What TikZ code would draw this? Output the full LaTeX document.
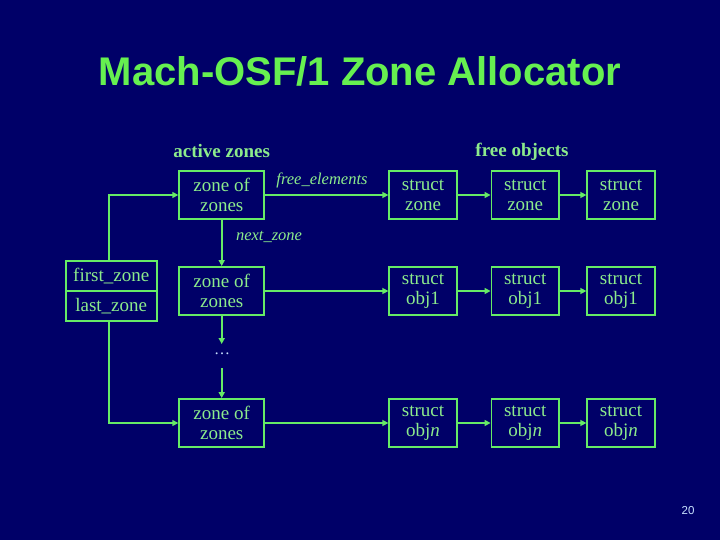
\documentclass[tikz,border=0pt]{standalone}
\usepackage{fontspec}
\setmainfont{Liberation Serif}
\newfontfamily\titlefont{Liberation Sans}
\usetikzlibrary{arrows.meta}
\definecolor{bg}{RGB}{0,0,104}
\definecolor{ln}{RGB}{102,235,102}
\definecolor{tx}{RGB}{140,235,140}
\definecolor{ttl}{RGB}{102,240,80}
\definecolor{pg}{RGB}{200,225,255}
\tikzset{
  box/.style={draw=ln, line width=1.8pt, text=tx, align=center, inner sep=0pt,
    font=\fontsize{19}{20}\selectfont},
  zbox/.style={box, minimum width=85pt, minimum height=48pt},
  sbox/.style={box, minimum width=67.5pt, minimum height=48.5pt},
  fbox/.style={box, minimum width=91pt, minimum height=30.3pt},
  conn/.style={draw=ln, line width=1.8pt, -{Triangle[length=6pt,width=6pt]}},
  plain/.style={draw=ln, line width=1.8pt},
  lab/.style={text=tx, font=\fontsize{19}{20}\selectfont\bfseries},
  ilab/.style={text=tx, font=\fontsize{16.5}{18}\selectfont\itshape}
}
\begin{document}
\begin{tikzpicture}[x=1pt,y=-1pt]
\fill[bg] (0,0) rectangle (720,540);
\useasboundingbox (0,0) rectangle (720,540);

\node[text=ttl, font=\titlefont\fontsize{40}{44}\selectfont\bfseries] (title) at (360,71) {Mach-OSF/1 Zone Allocator};

\node[lab] (active) at (221.7,151.5) {active zones};
\node[lab] (freeobj) at (522,151.5) {free objects};

\node[zbox] (z1) at (221.7,195) {zone of\\zones};
\node[zbox] (z2) at (221.7,291) {zone of\\zones};
\node[zbox] (z3) at (221.7,423) {zone of\\zones};

\node[sbox] (a1) at (423,195) {struct\\zone};
\node[sbox] (a2) at (525.2,195) {struct\\zone};
\node[sbox] (a3) at (621,195) {struct\\zone};

\node[sbox] (b1) at (423,291) {struct\\obj1};
\node[sbox] (b2) at (525.2,291) {struct\\obj1};
\node[sbox] (b3) at (621,291) {struct\\obj1};

\node[sbox] (c1) at (423,423) {struct\\obj\textit{n}};
\node[sbox] (c2) at (525.2,423) {struct\\obj\textit{n}};
\node[sbox] (c3) at (621,423) {struct\\obj\textit{n}};

\node[fbox] (first) at (111.2,275.9) {first\_zone};
\node[fbox] (last) at (111.2,306.2) {last\_zone};

\node[ilab] (fe) at (322,180.5) {free\_elements};
\node[ilab] (nz) at (269,237) {next\_zone};
\node[text=pg, font=\fontsize{16}{18}\selectfont] (dots) at (222,354) {\dots};
\coordinate (dtop) at (221.7,344);
\coordinate (dbot) at (221.7,368);

\draw[conn] (z1) -- (a1);
\draw[conn] (a1) -- (a2);
\draw[conn] (a2) -- (a3);
\draw[conn] (z2) -- (b1);
\draw[conn] (b1) -- (b2);
\draw[conn] (b2) -- (b3);
\draw[conn] (z3) -- (c1);
\draw[conn] (c1) -- (c2);
\draw[conn] (c2) -- (c3);

\draw[conn] (z1) -- (z2);
\draw[conn] (z2) -- (dtop);
\draw[conn] (dbot) -- (z3);

\draw[conn] ([xshift=-2.5pt]first.north) |- (z1.west);
\draw[conn] ([xshift=-2.5pt]last.south) |- (z3.west);

\node[text=pg, font=\titlefont\fontsize{11.5}{13}\selectfont] (page) at (688,510.5) {20};
\end{tikzpicture}
\end{document}
